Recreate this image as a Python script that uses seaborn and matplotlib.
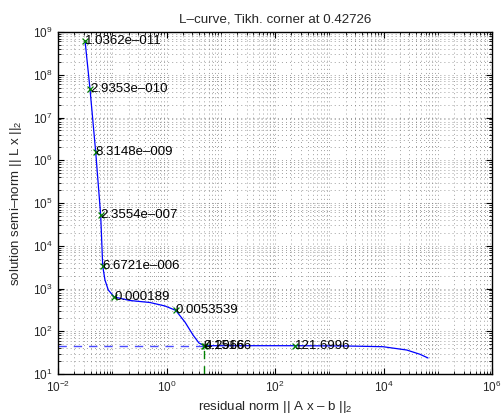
import numpy as np
import pandas as pd
import matplotlib
matplotlib.use("Agg")
import matplotlib.pyplot as plt
import matplotlib.ticker as mticker
import seaborn as sns

# ---- data ----
curve_rho = [0.0315, 0.0389, 0.0496, 0.0612, 0.0667, 0.0734, 0.0845, 0.109,
             0.212, 0.497, 0.937, 1.476, 2.19, 3.08, 3.97, 4.98,
             234.0, 2124.0, 9790.0, 26800.0, 47100.0, 66100.0]
curve_eta = [6.3e8, 4.6e7, 1.53e6, 5.2e4, 3360.0, 1580.0, 923.0, 632.0,
             524.0, 470.0, 390.0, 309.0, 164.0, 81.7, 53.0, 45.9,
             45.9, 45.2, 43.5, 36.4, 28.9, 23.7]

marker_rho = [0.0315, 0.0389, 0.0496, 0.0612, 0.0667, 0.109, 1.476, 4.9, 5.15, 234.0]
marker_eta = [6.3e8, 4.6e7, 1.53e6, 5.2e4, 3360.0, 632.0, 309.0, 46.3, 45.9, 45.9]
marker_labels = ["1.0362e\u2013011", "2.9353e\u2013010", "8.3148e\u2013009",
                 "2.3554e\u2013007", "6.6721e\u2013006", "0.000189", "0.0053539",
                 "0.15166", "4.2966", "121.6996"]

corner_rho = 4.98
corner_eta = 45.9
axis_xlim = (1e-2, 1e6)
axis_ylim = (1e1, 1e9)
x_major = [1e-2, 1e0, 1e2, 1e4, 1e6]

title_text = "L\u2013curve, Tikh. corner at 0.42726"
xlabel_text = "residual norm || A x \u2013 b ||$_2$"
ylabel_text = "solution semi\u2013norm || L x ||$_2$"

# ---- styling ----
sns.set_style("ticks")
plt.rcParams["font.family"] = ["Liberation Sans", "DejaVu Sans"]
plt.rcParams["mathtext.fontset"] = "custom"
plt.rcParams["mathtext.rm"] = "Liberation Sans"
plt.rcParams["mathtext.it"] = "Liberation Sans:italic"
plt.rcParams["mathtext.bf"] = "Liberation Sans:bold"

fig = plt.figure(figsize=(5.01, 4.16), dpi=100)
ax = fig.add_axes([58 / 501, 1 - 374 / 416, (492 - 58) / 501, (374 - 32) / 416])
ax.set_xscale("log")
ax.set_yscale("log")

curve_df = pd.DataFrame({"rho": curve_rho, "eta": curve_eta})
mark_df = pd.DataFrame({"rho": marker_rho, "eta": marker_eta, "lab": marker_labels})

# corner indicator lines
ax.plot([axis_xlim[0], corner_rho], [corner_eta, corner_eta], color="#4a4aff",
        lw=1.0, dashes=(6, 5), zorder=2)
ax.plot([corner_rho, corner_rho], [axis_ylim[0], corner_eta], color="#008000",
        lw=1.0, dashes=(6, 5), zorder=2)

sns.lineplot(data=curve_df, x="rho", y="eta", sort=False, estimator=None,
             color="#0000ff", lw=0.9, ax=ax, zorder=3)
sns.scatterplot(data=mark_df, x="rho", y="eta", marker="x", color="#008000",
                s=18, linewidth=0.9, ax=ax, zorder=4)

for r, e, lab in zip(marker_rho, marker_eta, marker_labels):
    ax.text(r, e, lab, ha="left", va="center", fontsize=9.5, color="black", zorder=5)

ax.set_xlim(*axis_xlim)
ax.set_ylim(*axis_ylim)

ax.xaxis.set_major_locator(mticker.FixedLocator(x_major))
ax.xaxis.set_major_formatter(mticker.LogFormatterSciNotation())
ax.xaxis.set_minor_locator(mticker.LogLocator(base=10, subs=np.arange(1, 10), numticks=100))
ax.xaxis.set_minor_formatter(mticker.NullFormatter())
ax.yaxis.set_major_locator(mticker.LogLocator(base=10, numticks=20))
ax.yaxis.set_minor_locator(mticker.LogLocator(base=10, subs=np.arange(2, 10), numticks=100))
ax.yaxis.set_minor_formatter(mticker.NullFormatter())

ax.grid(True, which="both", linestyle=(0, (1.5, 5.0)), color="0.4", linewidth=0.45)
ax.tick_params(which="both", direction="in", top=True, right=True, color="black")
ax.tick_params(which="major", length=4, width=0.8, labelsize=8.5, pad=4)
ax.tick_params(which="minor", length=2, width=0.6)
for sp in ax.spines.values():
    sp.set_visible(True)
    sp.set_color("black")
    sp.set_linewidth(1.0)

ax.set_title(title_text, fontsize=9.6, pad=7)
ax.set_xlabel(xlabel_text, fontsize=9.6, labelpad=3)
ax.set_ylabel(ylabel_text, fontsize=9.6, labelpad=6)

fig.savefig("out.png", dpi=100)
